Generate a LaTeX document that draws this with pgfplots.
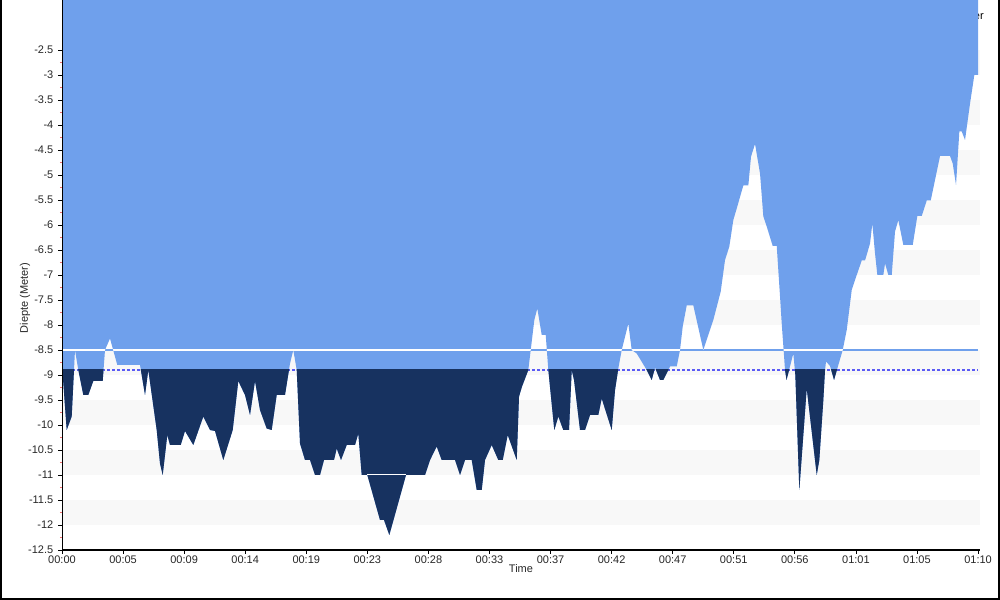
\documentclass[border=0pt]{standalone}
\usepackage{fontspec}
\setmainfont{Liberation Sans}
\usepackage{pgfplots}
\pgfplotsset{compat=1.18}

\definecolor{skyarea}{RGB}{111,160,236}
\definecolor{deepnavy}{RGB}{23,50,96}
\definecolor{stripe}{RGB}{248,248,248}
\definecolor{dashblue}{RGB}{90,90,245}
\definecolor{minred}{RGB}{240,110,110}

% dive profile: time (min), depth (m); first and last rows close the area at the top
\pgfplotstableread{
t d
0.000 -1.50
0.000 -8.80
0.359 -10.10
0.741 -9.83
0.993 -8.50
1.246 -8.90
1.628 -9.40
2.010 -9.40
2.392 -9.12
3.110 -9.12
3.286 -8.50
3.668 -8.27
4.226 -8.80
5.961 -8.80
6.343 -9.40
6.595 -8.90
7.237 -10.10
7.489 -10.77
7.695 -11.00
8.047 -10.20
8.253 -10.40
9.071 -10.40
9.400 -10.12
10.034 -10.40
10.798 -9.83
11.310 -10.10
11.692 -10.12
12.326 -10.70
13.045 -10.10
13.473 -9.12
13.985 -9.40
14.367 -9.80
14.749 -9.12
15.131 -9.70
15.643 -10.07
16.025 -10.10
16.407 -9.40
17.041 -9.40
17.424 -8.77
17.676 -8.50
17.936 -8.90
18.188 -10.37
18.570 -10.70
18.952 -10.70
19.334 -11.00
19.716 -11.00
20.022 -10.70
20.786 -10.70
20.993 -10.47
21.321 -10.70
21.757 -10.40
22.391 -10.40
22.643 -10.17
22.903 -11.00
23.331 -11.00
24.301 -11.90
24.607 -11.90
25.012 -12.20
26.288 -11.00
27.740 -11.00
28.122 -10.70
28.634 -10.43
29.016 -10.70
30.033 -10.70
30.415 -11.00
30.797 -10.70
31.309 -10.70
31.691 -11.30
32.073 -11.30
32.325 -10.70
32.837 -10.40
33.341 -10.70
33.678 -10.70
34.060 -10.20
34.748 -10.70
34.924 -9.43
35.153 -9.23
35.634 -8.90
35.818 -8.50
36.093 -7.90
36.322 -7.67
36.658 -8.20
36.964 -8.20
37.163 -8.90
37.621 -10.10
37.927 -9.83
38.309 -10.10
38.745 -10.10
38.951 -8.90
39.127 -9.10
39.585 -10.10
39.967 -10.10
40.349 -9.80
40.984 -9.80
41.243 -9.47
42.007 -10.10
42.260 -9.30
42.512 -8.87
42.771 -8.50
43.276 -7.97
43.535 -8.50
43.918 -8.57
44.682 -8.90
45.064 -9.10
45.316 -8.85
45.698 -9.10
45.950 -9.10
46.463 -8.83
46.975 -8.83
47.227 -8.50
47.433 -8.03
47.739 -7.61
48.244 -7.61
49.008 -8.50
49.772 -7.90
50.337 -7.33
50.666 -6.70
50.995 -6.43
51.300 -5.90
51.560 -5.67
52.064 -5.21
52.447 -5.21
52.653 -4.63
52.959 -4.38
53.341 -4.97
53.593 -5.83
53.899 -6.07
54.311 -6.42
54.617 -6.42
54.869 -7.43
54.999 -7.97
55.251 -8.90
55.366 -9.10
55.885 -8.57
56.038 -9.00
56.344 -11.30
56.909 -9.27
57.674 -11.00
57.872 -10.70
58.178 -9.50
58.308 -8.90
58.384 -8.73
58.690 -8.82
58.996 -9.10
59.325 -8.80
59.661 -8.50
59.966 -8.10
60.348 -7.30
60.600 -7.10
61.112 -6.71
61.364 -6.71
61.747 -6.37
61.922 -5.97
62.129 -6.57
62.305 -7.00
62.763 -7.00
62.893 -6.77
63.145 -7.00
63.405 -7.00
63.657 -6.13
63.910 -5.90
64.292 -6.40
65.010 -6.40
65.362 -5.82
65.698 -5.82
66.080 -5.51
66.385 -5.51
67.096 -4.62
67.860 -4.62
68.066 -4.77
68.318 -5.20
68.571 -4.13
68.754 -4.13
69.006 -4.30
69.389 -3.57
69.717 -3.00
70.000 -3.00
70.000 -1.50
}\dive

\begin{document}
\begin{tikzpicture}
\node[anchor=east, font=\fontsize{8.25}{10}\selectfont, inner sep=0pt] at (738pt,438pt) {Meter};
\begin{axis}[
    at={(46.5pt,37.5pt)}, anchor=south west,
    scale only axis, width=688.5pt, height=412.5pt,
    xmin=0, xmax=70.15, ymin=-12.5, ymax=-1.5,
    axis lines*=left, axis on top,
    axis line style={line width=0.75pt, black},
    xtick={0,4.66667,9.33333,14,18.66667,23.33333,28,32.66667,37.33333,42,46.66667,51.33333,56,60.66667,65.33333,70},
    xticklabels={00:00,00:05,00:09,00:14,00:19,00:23,00:28,00:33,00:37,00:42,00:47,00:51,00:56,01:01,01:05,01:10},
    ytick={-12.5,-12,...,-2.5},
    minor x tick num=13, minor y tick num=1,
    tick align=outside,
    major tick length=3pt, minor tick length=1.6pt,
    tick style={line width=0.6pt, black},
    minor y tick style={minred, line width=0.9pt},
    tick label style={font=\fontsize{8.25}{9.9}\selectfont, color=black!85},
    xticklabel style={yshift=2.5pt},
    /pgf/number format/assume math mode=true,
    xlabel={Time}, ylabel={Diepte (Meter)},
    label style={font=\fontsize{8.25}{9.9}\selectfont, color=black!85},
    xlabel style={at={(axis description cs:0.5,0)}, anchor=north, yshift=-7.5pt},
    ylabel style={at={(axis description cs:-0.0403,0.458)}, anchor=center},
]
% background bands
\addplot[fill=stripe, draw=none] coordinates {(0,-12) (70.15,-12) (70.15,-11.5) (0,-11.5)} -- cycle;
\addplot[fill=stripe, draw=none] coordinates {(0,-11) (70.15,-11) (70.15,-10.5) (0,-10.5)} -- cycle;
\addplot[fill=stripe, draw=none] coordinates {(0,-10) (70.15,-10) (70.15,-9.5) (0,-9.5)} -- cycle;
\addplot[fill=stripe, draw=none] coordinates {(0,-9) (70.15,-9) (70.15,-8.5) (0,-8.5)} -- cycle;
\addplot[fill=stripe, draw=none] coordinates {(0,-8) (70.15,-8) (70.15,-7.5) (0,-7.5)} -- cycle;
\addplot[fill=stripe, draw=none] coordinates {(0,-7) (70.15,-7) (70.15,-6.5) (0,-6.5)} -- cycle;
\addplot[fill=stripe, draw=none] coordinates {(0,-6) (70.15,-6) (70.15,-5.5) (0,-5.5)} -- cycle;
\addplot[fill=stripe, draw=none] coordinates {(0,-5) (70.15,-5) (70.15,-4.5) (0,-4.5)} -- cycle;
\addplot[fill=stripe, draw=none] coordinates {(0,-4) (70.15,-4) (70.15,-3.5) (0,-3.5)} -- cycle;
\addplot[fill=stripe, draw=none] coordinates {(0,-3) (70.15,-3) (70.15,-2.5) (0,-2.5)} -- cycle;

% reference lines
\addplot[draw=dashblue, line width=0.8pt, dash pattern=on 2.25pt off 1.5pt] coordinates {(0,-8.9) (70,-8.9)};
\addplot[draw=skyarea, line width=0.8pt] coordinates {(0,-8.5) (70,-8.5)};

% area above the depth curve
\addplot[fill=skyarea, draw=none] table[x=t, y=d] {\dive} -- cycle;
\begin{scope}
\clip (axis cs:0,-12.5) rectangle (axis cs:70.15,-8.9);
\addplot[fill=deepnavy, draw=none] table[x=t, y=d] {\dive} -- cycle;
\end{scope}
\begin{scope}
\clip (axis cs:0,-8.513) rectangle (axis cs:70.15,-8.487);
\addplot[fill=white, draw=none] table[x=t, y=d] {\dive} -- cycle;
\end{scope}
\addplot[draw=white, line width=0.75pt] coordinates {(23.33,-11) (26.29,-11)};
\end{axis}
\draw[line width=1.5pt, black] (0.75pt,450pt) -- (0.75pt,0.75pt) -- (749.25pt,0.75pt) -- (749.25pt,450pt);
\pgfresetboundingbox
\path[use as bounding box] (0,0) rectangle (750pt,450pt);
\end{tikzpicture}
\end{document}
